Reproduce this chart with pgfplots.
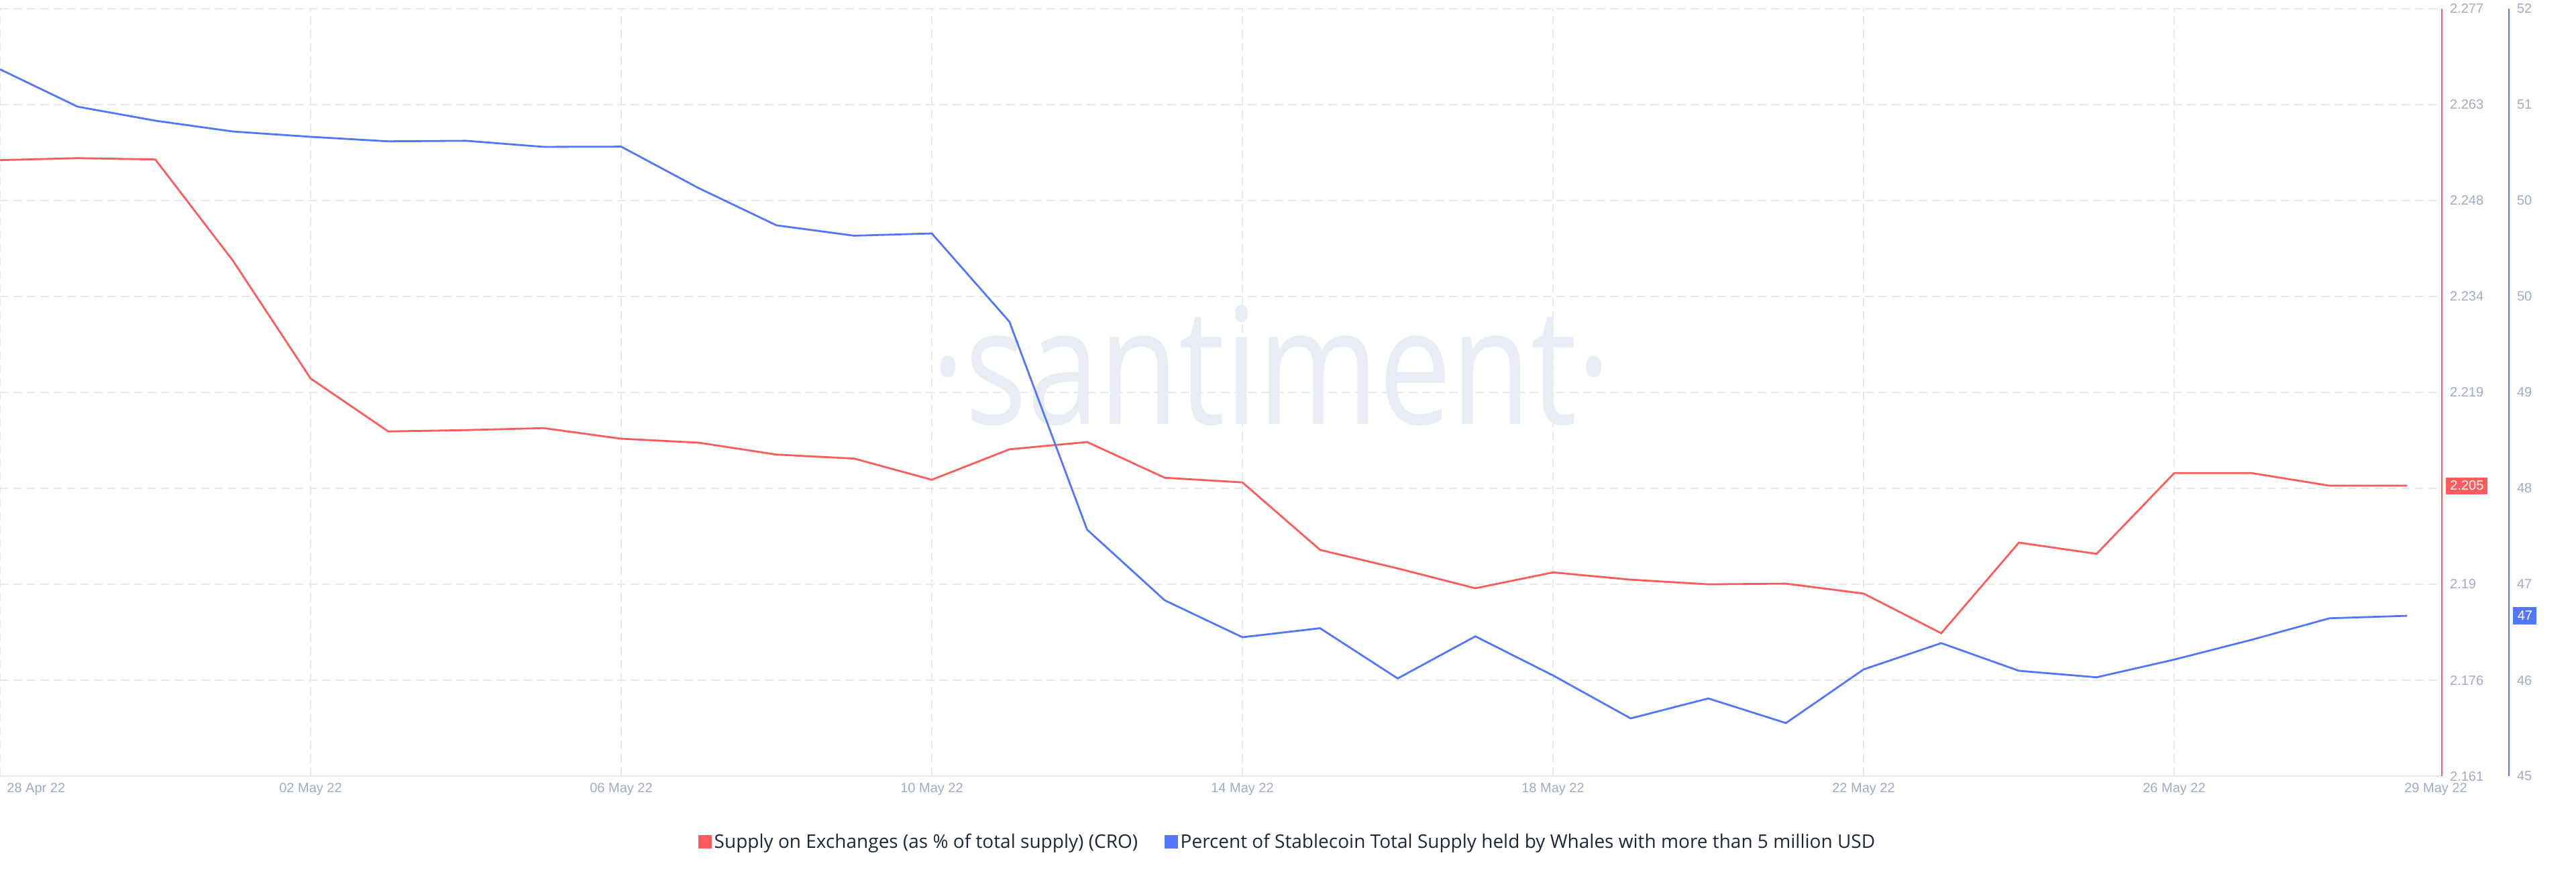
\documentclass[border=0pt]{standalone}
\usepackage{fontspec}
\setmainfont{Liberation Sans}
\newfontfamily\wmfont{Open Sans}
\newfontfamily\legfont{Open Sans}
\usepackage{pgfplots}
\usepackage{pgfplotstable}
\pgfplotsset{compat=1.18}

\definecolor{cred}{RGB}{255,91,91}
\definecolor{cblue}{RGB}{82,118,255}
\definecolor{ticktxt}{RGB}{160,170,196}
\definecolor{gridc}{RGB}{230,232,242}
\definecolor{basec}{RGB}{225,231,240}
\definecolor{legtxt}{RGB}{30,38,56}
\definecolor{wmark}{RGB}{233,236,245}

% day 0 = 28 Apr 22
\pgfplotstableread{
day cro
0 2.2541
1 2.2544
2 2.2542
3 2.2389
4 2.2211
5 2.2131
6 2.2133
7 2.2136
8 2.2120
9 2.2114
10 2.2096
11 2.2090
12 2.2058
13 2.2104
14 2.2115
15 2.2061
16 2.2054
17 2.1952
18 2.1924
19 2.1894
20 2.1918
21 2.1907
22 2.1900
23 2.1901
24 2.1886
25 2.1826
26 2.1963
27 2.1946
28 2.2068
29 2.2068
30 2.2049
31 2.2049
}\crodata

\pgfplotstableread{
day whales
0 51.562
1 51.231
2 51.107
3 51.011
4 50.964
5 50.924
6 50.929
7 50.875
8 50.877
9 50.509
10 50.180
11 50.088
12 50.108
13 49.326
14 47.484
15 46.858
16 46.531
17 46.611
18 46.166
19 46.539
20 46.193
21 45.812
22 45.989
23 45.771
24 46.246
25 46.479
26 46.234
27 46.176
28 46.333
29 46.509
30 46.699
31 46.721
}\whaledata

\begin{document}
\begin{tikzpicture}
\useasboundingbox (0,-71.4pt) rectangle (1920pt,578.6pt);

\begin{axis}[
    at={(0,0)}, anchor=south west,
    scale only axis,
    width=1820pt, height=572.2pt,
    xmin=0, xmax=31.447,
    ymin=2.161, ymax=2.277,
    axis x line*=bottom, axis y line*=right,
    x axis line style={basec, line width=1pt, -},
    y axis line style={cred, line width=1pt, -},
    major tick length=0pt,
    xtick={0,4,8,12,16,20,24,28},
    xticklabels={,02 May 22,06 May 22,10 May 22,14 May 22,18 May 22,22 May 22,26 May 22},
    ytick={2.161,2.1755,2.19,2.2045,2.219,2.2335,2.248,2.2625,2.277},
    yticklabels={2.161,2.176,2.19,,2.219,2.234,2.248,2.263,2.277},
    xmajorgrids, ymajorgrids,
    grid style={gridc, line width=1pt, dash pattern=on 6.5pt off 3.5pt},
    ticklabel style={font=\fontsize{10}{12}\selectfont, text=ticktxt},
    yticklabel style={anchor=west, xshift=2.5pt, inner ysep=1pt},
    xticklabel style={yshift=-1.5pt},
    clip=false,
]
\node[anchor=base, text=wmark] at (rel axis cs:0.5206,0.4589)
    {\scalebox{0.8}[1]{\wmfont\fontsize{121}{121}\selectfont ·santiment·}};

\addplot[cred, line width=1.4pt] table[x=day, y=cro] {\crodata};

\node[anchor=north west, text=ticktxt, font=\fontsize{10}{12}\selectfont, xshift=1.7pt, yshift=-1.5pt]
    at (axis cs:0,2.161) {28 Apr 22};
\node[anchor=north west, text=ticktxt, font=\fontsize{10}{12}\selectfont, xshift=-5.5pt, yshift=-1.5pt]
    at (axis cs:31,2.161) {29 May 22};
\node[anchor=west, fill=cred, text=white, font=\fontsize{10}{12}\selectfont,
      inner xsep=3pt, inner ysep=0pt, minimum height=12.5pt, xshift=3pt]
    at (axis cs:31.447,2.2049) {2.205};
\end{axis}

\begin{axis}[
    at={(0,0)}, anchor=south west,
    scale only axis,
    width=1870pt, height=572.2pt,
    xmin=0, xmax=32.311,
    ymin=45.3, ymax=52.1,
    axis x line=none, axis y line*=right,
    y axis line style={cblue, line width=1pt, -},
    major tick length=0pt,
    xtick=\empty,
    ytick={45.3,46.15,47.0,47.85,48.7,49.55,50.4,51.25,52.1},
    yticklabels={45,46,47,48,49,50,50,51,52},
    ticklabel style={font=\fontsize{10}{12}\selectfont, text=ticktxt},
    yticklabel style={anchor=west, xshift=2.5pt, inner ysep=1pt},
    clip=false,
    legend columns=2,
    legend style={at={(0.5134,-0.0855)}, anchor=center, draw=none, fill=none,
        font=\legfont\fontsize{14}{16}\selectfont, nodes={text=legtxt},
        /tikz/every even column/.append style={column sep=18pt}},
    legend cell align=left,
    legend image code/.code={\fill[#1] (0pt,-4.4pt) rectangle (8.4pt,4.4pt);},
]
\addlegendimage{cred, line width=1.4pt}
\addlegendentry{Supply on Exchanges (as \% of total supply) (CRO)}
\addplot[cblue, line width=1.4pt] table[x=day, y=whales] {\whaledata};
\addlegendentry{Percent of Stablecoin Total Supply held by Whales with more than 5 million USD}
\node[anchor=west, fill=cblue, text=white, font=\fontsize{10}{12}\selectfont,
      inner xsep=3.2pt, inner ysep=0pt, minimum height=13pt, xshift=3pt]
    at (axis cs:32.311,46.721) {47};
\end{axis}
\end{tikzpicture}
\end{document}
